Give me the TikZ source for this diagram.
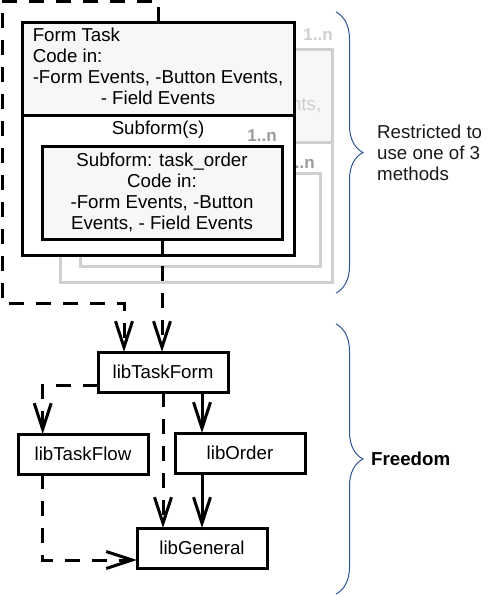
\documentclass[tikz,border=0pt]{standalone}
\usepackage{fontspec}
\setmainfont{Liberation Sans}
\usetikzlibrary{positioning,calc,arrows.meta,decorations.pathreplacing}
\definecolor{boxfill}{HTML}{F7F7F7}
\definecolor{copyline}{HTML}{D0D0D0}
\definecolor{copytext}{HTML}{CFCFCF}
\definecolor{multgrey}{HTML}{9C9C9C}
\definecolor{bracecol}{HTML}{2F5597}
\tikzset{
  formbox/.style={draw,line width=3pt,minimum width=272pt,inner sep=0pt,outer sep=0pt},
  orderbox/.style={draw,line width=3pt,minimum width=240pt,minimum height=93pt,inner sep=0pt,outer sep=0pt,fill=boxfill,align=center},
  copybox/.style={draw=copyline,text=copytext,line width=3pt},
  libbox/.style={draw,line width=3pt,minimum width=130pt,minimum height=40pt,inner sep=0pt,outer sep=0pt,fill=white},
  multlabel/.style={font=\fontsize{17}{20}\selectfont\bfseries,inner sep=0pt},
  depline/.style={line width=3pt,-{Straight Barb[length=26pt,width=17pt]}},
  depdash/.style={depline,dash pattern=on 15pt off 12pt},
  bracket/.style={draw=bracecol,line width=1pt,decorate,decoration={brace,amplitude=27pt}}
}
\newcommand{\formtext}{\begin{tabular}{@{}l@{}}Form Task\\Code in:\\-Form Events, -Button Events,\\\multicolumn{1}{@{}c@{}}{- Field Events}\end{tabular}}

\begin{document}
\begin{tikzpicture}[x=1pt,y=-1pt,font=\fontsize{18.7}{21}\selectfont]
\useasboundingbox (0,0) rectangle (501,595);

% grey copy behind the form (1..n)
\begin{scope}[shift={(38,27)}]
\node[formbox,copybox,fill=boxfill,minimum height=93pt] (ctask) at (158,68.5) {\formtext};
\node[formbox,copybox,fill=white,minimum height=140pt,below=0pt of ctask] (csub) {};
\node[orderbox,copybox,fill=white] (corder) at (162,192.5) {};
\node[multlabel,text=multgrey] (cmult) at (262,136) {1..n};
\end{scope}
\node[multlabel,text=copytext] (formmult) at (318,35) {1..n};

% the form
\node[formbox,fill=boxfill,minimum height=93pt] (formtask) at (158,68.5) {\formtext};
\node[formbox,fill=white,minimum height=140pt,below=0pt of formtask] (subforms) {};
\node (sublabel) at (158,130) {Subform(s)};
\node[orderbox] (taskorder) at (162,192.5) {Subform: task\_order\\Code in:\\-Form Events, -Button\\Events, - Field Events};
\node[multlabel,text=multgrey] (submult) at (262,136) {1..n};

% libraries
\node[libbox] (libTaskForm) at (163,372) {libTaskForm};
\node[libbox] (libTaskFlow) at (83,454) {libTaskFlow};
\node[libbox] (libOrder) at (240,453) {libOrder};
\node[libbox] (libGeneral) at (202,548) {libGeneral};

% dependencies
\draw[depdash] (formtask.north) |- (2,1) -- (2,303) -| ($(libTaskForm.north west)!0.2!(libTaskForm.north east)$);
\draw[depdash] (taskorder.south) -- (taskorder.south |- libTaskForm.north);
\draw[depdash] ($(libTaskForm.west)+(0,13)$) -| ($(libTaskFlow.north west)!0.19!(libTaskFlow.north east)$);
\draw[depline] (libGeneral.north |- libTaskForm.south) -- (libGeneral.north |- libOrder.north);
\draw[depdash] (libTaskForm.south) -- (libTaskForm.south |- libGeneral.north);
\draw[depline] (libGeneral.north |- libOrder.south) -- (libGeneral.north);
\draw[depdash] ($(libTaskFlow.south west)!0.19!(libTaskFlow.south east)$) |- ($(libGeneral.west)+(0,12)$);

% braces
\draw[bracket] (336,12) -- (336,293);
\node[anchor=west,align=left,inner sep=0pt,text=black!90] (restricted) at (377,153) {Restricted to\\use one of 3\\methods};
\draw[bracket] (336,324) -- (336,594);
\node[anchor=west,inner sep=0pt,font=\fontsize{18.7}{21}\selectfont\bfseries] (freedom) at (371,459) {Freedom};
\end{tikzpicture}
\end{document}
